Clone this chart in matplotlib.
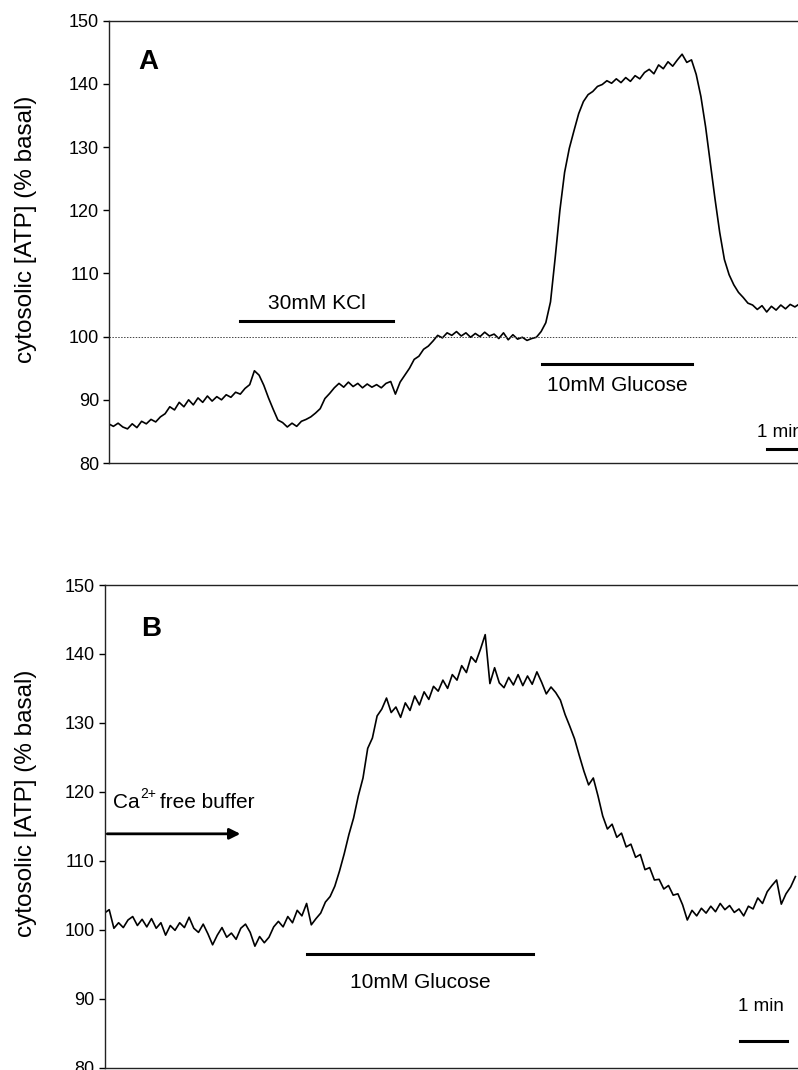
import numpy as np
import matplotlib
matplotlib.use("Agg")
import matplotlib.pyplot as plt

plt.rcParams['font.family'] = ['Liberation Sans', 'DejaVu Sans']

# trace values (% basal), sampled every 0.1 min
atp_a = [86.2, 85.8, 86.3, 85.7, 85.4, 86.2, 85.6, 86.6, 86.2, 86.9,
         86.5, 87.3, 87.8, 88.9, 88.4, 89.6, 88.9, 90.0, 89.2, 90.3,
         89.6, 90.6, 89.8, 90.5, 90.0, 90.8, 90.4, 91.2, 90.9, 91.8,
         92.4, 94.6, 93.9, 92.3, 90.3, 88.5, 86.8, 86.4, 85.7, 86.3,
         85.8, 86.6, 86.9, 87.3, 87.9, 88.6, 90.2, 91.0, 91.9, 92.6,
         92.0, 92.8, 92.1, 92.6, 91.9, 92.5, 92.0, 92.4, 91.9, 92.6,
         92.9, 90.9, 92.8, 93.9, 95.0, 96.4, 96.9, 98.0, 98.5, 99.3,
         100.2, 99.8, 100.6, 100.2, 100.8, 100.1, 100.6, 99.9, 100.5, 100.0,
         100.7, 100.1, 100.4, 99.7, 100.6, 99.5, 100.3, 99.6, 99.9, 99.4,
         99.7, 99.9, 100.8, 102.2, 105.5, 112.5, 120.0, 126.0, 129.8, 132.6,
         135.3, 137.2, 138.3, 138.8, 139.6, 139.9, 140.5, 140.1, 140.8, 140.2,
         141.0, 140.4, 141.3, 140.8, 141.8, 142.3, 141.6, 143.0, 142.4, 143.5,
         142.8, 143.8, 144.7, 143.4, 143.8, 141.5, 138.0, 133.2, 127.5, 121.8,
         116.5, 112.2, 109.8, 108.2, 107.0, 106.2, 105.3, 105.0, 104.3, 104.9,
         103.9, 104.8, 104.2, 105.0, 104.4, 105.1, 104.7, 105.2]

atp_b = [102.4, 102.9, 100.2, 101.0, 100.3, 101.4, 101.9, 100.6, 101.5, 100.4,
         101.6, 100.2, 101.0, 99.2, 100.6, 99.9, 101.0, 100.3, 101.8, 100.2,
         99.6, 100.8, 99.4, 97.8, 99.2, 100.3, 98.9, 99.5, 98.6, 100.2,
         100.8, 99.6, 97.6, 99.0, 98.1, 98.9, 100.4, 101.2, 100.4, 101.9,
         101.0, 102.8, 102.0, 103.8, 100.7, 101.6, 102.4, 104.0, 104.8, 106.3,
         108.5, 111.0, 113.8, 116.2, 119.4, 122.0, 126.3, 127.8, 131.0, 132.0,
         133.6, 131.5, 132.3, 130.8, 132.9, 131.8, 133.9, 132.6, 134.5, 133.4,
         135.3, 134.6, 136.2, 135.0, 137.0, 136.2, 138.3, 137.3, 139.6, 138.8,
         140.7, 142.8, 135.7, 138.0, 135.8, 135.1, 136.6, 135.5, 137.0, 135.4,
         136.8, 135.6, 137.4, 135.9, 134.2, 135.2, 134.4, 133.3, 131.2, 129.5,
         127.7, 125.3, 123.0, 121.0, 122.0, 119.4, 116.5, 114.6, 115.3, 113.4,
         114.0, 112.0, 112.4, 110.5, 110.9, 108.7, 109.0, 107.2, 107.3, 105.9,
         106.4, 105.0, 105.2, 103.6, 101.4, 102.8, 102.0, 103.1, 102.4, 103.4,
         102.6, 103.8, 102.9, 103.5, 102.5, 103.0, 102.0, 103.4, 103.0, 104.6,
         103.8, 105.5, 106.4, 107.2, 103.7, 105.2, 106.2, 107.7]

time_a = np.arange(len(atp_a)) * 0.1
time_b = np.arange(len(atp_b)) * 0.1

yticks = [80, 90, 100, 110, 120, 130, 140, 150]

# bars: (start, end, level) in min / % basal
kcl_a = (2.79, 6.05, 102.5)
glucose_a = (9.22, 12.41, 95.6)
glucose_b = (4.31, 9.12, 96.4)

W, H = 798, 1070
fig = plt.figure(figsize=(W / 100, H / 100), dpi=100)

ax_a = fig.add_axes([108.7 / W, 1 - 463 / H, (830 - 108.7) / W, (463 - 20.7) / H])
ax_b = fig.add_axes([104.5 / W, 1 - 1067.5 / H, (830 - 104.5) / W, (1067.5 - 585) / H])

for ax, t, v in [(ax_a, time_a, atp_a), (ax_b, time_b, atp_b)]:
    ax.plot(t, v, color='black', lw=1.2)
    ax.set_ylim(80, 150)
    ax.set_yticks(yticks)
    ax.set_xticks([])
    ax.tick_params(axis='y', direction='out', length=4, width=1, labelsize=13, pad=3)
    for s in ['left', 'top', 'bottom']:
        ax.spines[s].set_linewidth(1.0)
        ax.spines[s].set_color('#222222')
    ax.spines['right'].set_visible(False)

ax_a.set_xlim(0, (830 - 108.7) / 47)
ax_b.set_xlim(0, (830 - 104.5) / 47)

# panel A annotations
ax_a.axhline(100, ls=(0, (1.5, 1.5)), lw=0.7, color='#444444')
ax_a.text(0.64, 143.4, 'A', fontsize=20, fontweight='bold', va='center', ha='left')
ax_a.plot(kcl_a[:2], [kcl_a[2]] * 2, color='black', lw=2.2)
ax_a.text(sum(kcl_a[:2]) / 2, 105.3, '30mM KCl', fontsize=15, ha='center', va='center')
ax_a.plot(glucose_a[:2], [glucose_a[2]] * 2, color='black', lw=2.2)
ax_a.text(sum(glucose_a[:2]) / 2, 92.2, '10mM Glucose', fontsize=15, ha='center', va='center')
ax_a.text(13.8, 84.8, '1 min', fontsize=13.5, ha='left', va='center')
ax_a.plot([14.01, 15.01], [82.2, 82.2], color='black', lw=2.2)

# panel B annotations
ax_b.text(0.78, 143.6, 'B', fontsize=20, fontweight='bold', va='center', ha='left')
ca_pos = (0.18, 118.4)
ax_b.annotate('Ca', xy=ca_pos, xytext=(0, 0), textcoords='offset points',
              fontsize=15, ha='left', va='center')
ax_b.annotate('2+', xy=ca_pos, xytext=(19.6, 6.5), textcoords='offset points',
              fontsize=10, ha='left', va='center')
ax_b.annotate('free buffer', xy=ca_pos, xytext=(34, 0), textcoords='offset points',
              fontsize=15, ha='left', va='center')
ax_b.annotate('', xy=(2.95, 113.9), xytext=(0, 113.9),
              arrowprops=dict(arrowstyle='-|>', lw=2, color='black', mutation_scale=16))
ax_b.plot(glucose_b[:2], [glucose_b[2]] * 2, color='black', lw=2.2)
ax_b.text(sum(glucose_b[:2]) / 2, 92.3, '10mM Glucose', fontsize=15, ha='center', va='center')
ax_b.text(13.97, 88.9, '1 min', fontsize=13.5, ha='center', va='center')
ax_b.plot([13.52, 14.52], [83.8, 83.8], color='black', lw=2.2)

fig.text(26 / W, 1 - 229 / H, 'cytosolic [ATP] (% basal)', rotation=90,
         fontsize=17.5, ha='center', va='center')
fig.text(26 / W, 1 - 803 / H, 'cytosolic [ATP] (% basal)', rotation=90,
         fontsize=17.5, ha='center', va='center')

fig.savefig('out.png', dpi=100)
